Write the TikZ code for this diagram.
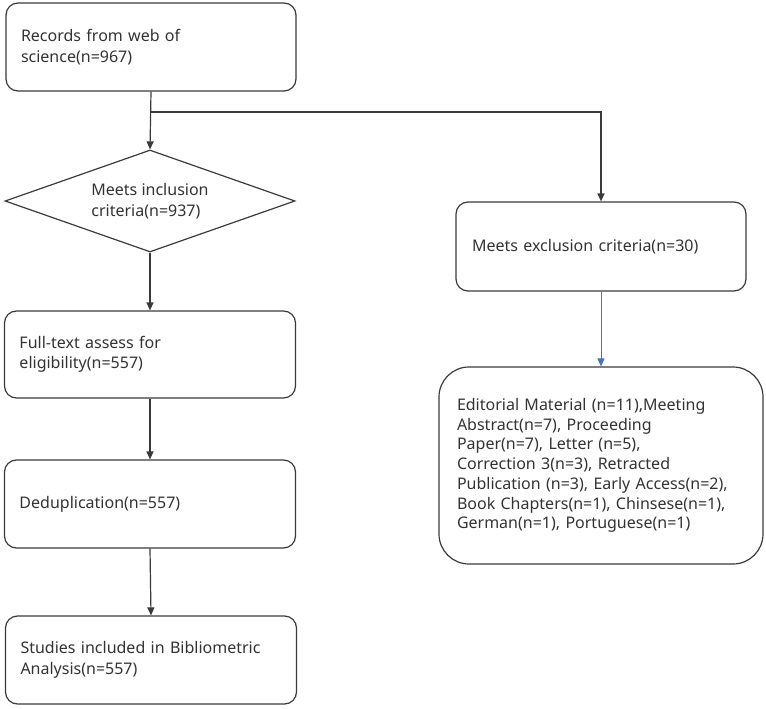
\documentclass[tikz,border=0pt]{standalone}
\usepackage{fontspec}
\setmainfont{Noto Sans}
\usetikzlibrary{shapes.geometric,arrows.meta}
\definecolor{lin}{HTML}{3A3A3A}
\definecolor{txt}{HTML}{333333}
\definecolor{blu}{HTML}{4472C4}
\begin{document}
\begin{tikzpicture}[x=1pt,y=-1pt,
  box/.style={draw=lin, line width=1.2pt, rounded corners=12pt, align=left,
    inner ysep=0pt, font=\fontsize{16}{20.5}\selectfont, text=txt, anchor=center},
  dia/.style={draw=lin, line width=1.2pt, diamond, aspect=2.84, inner sep=0pt, align=left,
    font=\fontsize{16}{20.5}\selectfont, text=txt},
  arr/.style={draw=lin, line width=1.2pt, -{Triangle[length=8pt,width=7pt]}},
  barr/.style={draw=blu, line width=1pt, -{Triangle[length=8pt,width=7pt]}}]
\useasboundingbox (0,0) rectangle (766,709);

\node[box, text width=260pt, inner xsep=15pt, minimum height=88pt] (top) at (151,47)
  {Records from web of\\science(n=967)};
\node[dia, minimum width=290pt, minimum height=102pt] (inc) at (150,201)
  {Meets inclusion\\criteria(n=937)};
\node[box, text width=258pt, inner xsep=16pt, minimum height=89pt] (exc) at (601,246.5)
  {Meets exclusion criteria(n=30)};
\node[box, rounded corners=30pt, text width=288pt, inner xsep=18pt, minimum height=197pt,
  font=\fontsize{16}{19.7}\selectfont] (det) at (601,465.5)
  {Editorial Material (n=11),Meeting\\Abstract(n=7), Proceeding\\Paper(n=7), Letter (n=5),\\Correction 3(n=3), Retracted\\Publication (n=3), Early Access(n=2),\\Book Chapters(n=1), Chinsese(n=1),\\German(n=1), Portuguese(n=1)};
\node[box, text width=261pt, inner xsep=15pt, minimum height=87pt] (ft) at (150,354.5)
  {Full-text assess for\\eligibility(n=557)};
\node[box, text width=261pt, inner xsep=15pt, minimum height=88pt] (dd) at (150,504)
  {Deduplication(n=557)};
\node[box, text width=261pt, inner xsep=15pt, minimum height=88pt] (st) at (151,660)
  {Studies included in Bibliometric\\Analysis(n=557)};

\coordinate (j) at (151,112);
\draw[arr] (top.south) -- (inc.north);
\draw[arr] (j) -| (exc.north);
\draw[barr] (exc.south) -- (det.north);
\draw[arr] (inc.south) -- (ft.north);
\draw[arr] (ft.south) -- (dd.north);
\draw[arr] (dd.south) -- (st.north);
\end{tikzpicture}
\end{document}
